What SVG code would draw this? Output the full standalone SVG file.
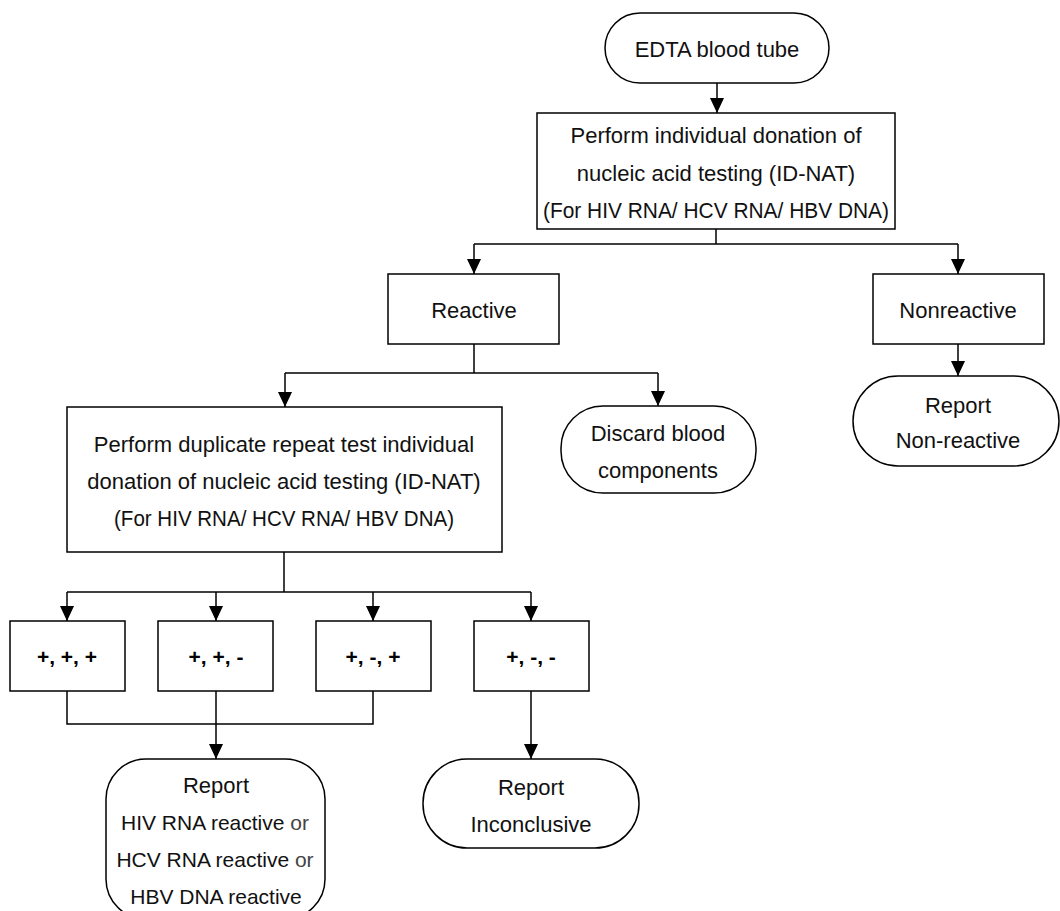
<svg xmlns="http://www.w3.org/2000/svg" width="1060" height="911" viewBox="0 0 1060 911">
<style>
  .box { fill: #ffffff; stroke: #000000; stroke-width: 1.5; }
  .t { font-family: "Liberation Sans", Arial, sans-serif; font-size: 22px; fill: #111111; text-anchor: middle; }
  .s { font-size: 21px; }
  .b { font-family: "Liberation Sans", Arial, sans-serif; font-size: 21px; font-weight: bold; fill: #000000; text-anchor: middle; }
  .or { font-weight: normal; fill: #444444; }
  .c { fill: none; stroke: #000000; stroke-width: 1.5; }
  .ca { fill: none; stroke: #000000; stroke-width: 1.5; marker-end: url(#arrow); }
</style>
<defs>
  <marker id="arrow" markerWidth="15" markerHeight="14" refX="15" refY="7" orient="auto" markerUnits="userSpaceOnUse" viewBox="0 0 15 14">
    <path d="M0,0 L15,7 L0,14 Z" fill="#000000"/>
  </marker>
</defs>
<rect width="1060" height="911" fill="#ffffff"/>

<g id="connectors">
  <line class="ca" x1="717" y1="83" x2="717" y2="113"/>
  <line class="c" x1="716" y1="229" x2="716" y2="244"/>
  <line class="c" x1="474" y1="244" x2="958" y2="244"/>
  <line class="ca" x1="474" y1="244" x2="474" y2="274"/>
  <line class="ca" x1="958" y1="244" x2="958" y2="274"/>
  <line class="c" x1="474" y1="344" x2="474" y2="373"/>
  <line class="c" x1="285" y1="373" x2="658" y2="373"/>
  <line class="ca" x1="285" y1="373" x2="285" y2="407"/>
  <line class="ca" x1="658" y1="373" x2="658" y2="406"/>
  <line class="ca" x1="958" y1="344" x2="958" y2="376"/>
  <line class="c" x1="284" y1="552" x2="284" y2="592"/>
  <line class="c" x1="67" y1="592" x2="531" y2="592"/>
  <line class="ca" x1="67" y1="592" x2="67" y2="621"/>
  <line class="ca" x1="216" y1="592" x2="216" y2="621"/>
  <line class="ca" x1="373" y1="592" x2="373" y2="621"/>
  <line class="ca" x1="531" y1="592" x2="531" y2="621"/>
  <polyline class="c" points="67,691 67,724 373,724 373,691"/>
  <line class="ca" x1="216" y1="691" x2="216" y2="759"/>
  <line class="ca" x1="531" y1="691" x2="531" y2="759"/>
</g>

<g id="edta">
  <rect class="box" x="605" y="13" width="224" height="70" rx="35" ry="35"/>
  <text class="t" x="717" y="57">EDTA blood tube</text>
</g>
<g id="id-nat">
  <rect class="box" x="537" y="113" width="358" height="116"/>
  <text class="t" x="716" y="143">Perform individual donation of</text>
  <text class="t" x="716" y="181">nucleic acid testing (ID-NAT)</text>
  <text class="t" x="716" y="218" textLength="346" lengthAdjust="spacingAndGlyphs">(For HIV RNA/ HCV RNA/ HBV DNA)</text>
</g>
<g id="reactive">
  <rect class="box" x="388" y="274" width="171" height="70"/>
  <text class="t" x="474" y="318">Reactive</text>
</g>
<g id="nonreactive">
  <rect class="box" x="873" y="274" width="171" height="70"/>
  <text class="t" x="958" y="318">Nonreactive</text>
</g>
<g id="report-nonreactive">
  <rect class="box" x="853" y="376" width="206" height="90" rx="45" ry="45"/>
  <text class="t" x="958" y="413">Report</text>
  <text class="t" x="958" y="448">Non-reactive</text>
</g>
<g id="duplicate">
  <rect class="box" x="67" y="407" width="435" height="145"/>
  <text class="t" x="284" y="452">Perform duplicate repeat test individual</text>
  <text class="t" x="284" y="489">donation of nucleic acid testing (ID-NAT)</text>
  <text class="t" x="284" y="526" textLength="340" lengthAdjust="spacingAndGlyphs">(For HIV RNA/ HCV RNA/ HBV DNA)</text>
</g>
<g id="discard">
  <rect class="box" x="561" y="406" width="195" height="87" rx="42" ry="42"/>
  <text class="t" x="658" y="441">Discard blood</text>
  <text class="t" x="658" y="478">components</text>
</g>
<g id="ppp">
  <rect class="box" x="10" y="621" width="115" height="70"/>
  <text class="b" x="67" y="664">+, +, +</text>
</g>
<g id="ppm">
  <rect class="box" x="158" y="621" width="115" height="70"/>
  <text class="b" x="216" y="664">+, +, -</text>
</g>
<g id="pmp">
  <rect class="box" x="316" y="621" width="115" height="70"/>
  <text class="b" x="373" y="664">+, -, +</text>
</g>
<g id="pmm">
  <rect class="box" x="474" y="621" width="115" height="70"/>
  <text class="b" x="531" y="664">+, -, -</text>
</g>
<g id="report-reactive">
  <rect class="box" x="106" y="759" width="219" height="160" rx="40" ry="40"/>
  <text class="t" x="216" y="793">Report</text>
  <text class="t s" x="215" y="830">HIV RNA reactive <tspan class="or">or</tspan></text>
  <text class="t s" x="215" y="867">HCV RNA reactive <tspan class="or">or</tspan></text>
  <text class="t s" x="216" y="904">HBV DNA reactive</text>
</g>
<g id="report-inconclusive">
  <rect class="box" x="423" y="759" width="216" height="89" rx="44" ry="44"/>
  <text class="t" x="531" y="795">Report</text>
  <text class="t" x="531" y="832">Inconclusive</text>
</g>
</svg>
